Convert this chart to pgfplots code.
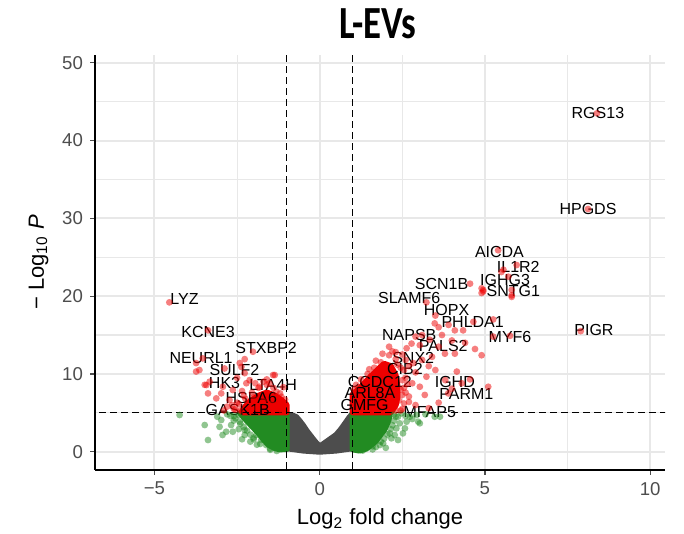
\documentclass[border=0pt]{standalone}
\usepackage{fontspec}
\setmainfont{Liberation Sans}
\newfontfamily\titlefont{Carlito}
\usepackage{pgfplots}
\pgfplotsset{compat=1.18}
\definecolor{ggray}{HTML}{4D4D4D}
\definecolor{fgreen}{HTML}{228B22}
\definecolor{rred}{HTML}{EE0000}
\definecolor{gridc}{HTML}{E8E8E8}
\definecolor{tickc}{HTML}{4D4D4D}

\begin{document}
\begin{tikzpicture}
\useasboundingbox (-47.5pt,-32pt) rectangle (294.5pt,235pt);
\begin{axis}[
 scale only axis, width=285pt, height=207.5pt,
 xmin=-6.8, xmax=10.45, ymin=-2.35, ymax=51,
 axis x line*=bottom, axis y line*=left,
 axis line style={black, line width=0.6pt},
 xtick={-5,0,5,10}, xticklabels={−5,0,5,10},
 ytick={0,10,20,30,40,50},
 minor xtick={-2.5,2.5,7.5}, minor ytick={5,15,25,35,45},
 grid=both,
 major grid style={gridc, line width=1pt},
 minor grid style={gridc, line width=0.55pt},
 tick align=outside, major tick length=2.5pt, minor tick length=0pt,
 tick style={tickc, line width=0.6pt},
 ticklabel style={font=\fontsize{9.3}{10}\selectfont, text=tickc},
 /pgf/number format/assume math mode=true,
 xlabel={Log\textsubscript{2} fold change},
 ylabel={− Log\textsubscript{10} \textit{P}},
 label style={font=\fontsize{11}{13}\selectfont},
 clip=true,
 redpt/.style={only marks, mark=*, mark size=1.7pt, color=rred, mark options={fill=rred, fill opacity=0.5, draw opacity=0}},
 greenpt/.style={only marks, mark=*, mark size=1.7pt, color=fgreen, mark options={fill=fgreen, fill opacity=0.5, draw opacity=0}},
]
% gray core (not significant)
\addplot[fill=ggray, draw=ggray, line width=3pt, line join=round] coordinates {
(-1.0,0.45) (-1.0,4.7) (-0.85,4.7) (-0.71,4.45) (-0.6,3.9) (-0.51,3.4) (-0.4,2.7) (-0.30,2.15) (-0.2,1.6) (-0.10,1.08) (0,0.65) (0.1,0.95) (0.2,1.25) (0.35,1.7) (0.5,2.15) (0.65,2.9) (0.81,3.86) (0.9,4.4) (1.0,4.9) (1.0,0.45) (0.5,0.15) (0,0.0) (-0.5,0.15)
} -- cycle;
% green cores
\addplot[fill=fgreen, draw=fgreen, line width=3pt, line join=round] coordinates {
(-2.4,4.95) (-2.25,4.2) (-2.05,3.3) (-1.85,2.4) (-1.7,1.6) (-1.55,0.9) (-1.35,0.45) (-1.2,0.3) (-1.0,0.35) (-1.0,4.95)
} -- cycle;
\addplot[fill=fgreen, draw=fgreen, line width=3pt, line join=round] coordinates {
(1.0,0.3) (1.2,0.15) (1.41,0.4) (1.68,1.3) (1.95,2.8) (2.08,4.0) (2.12,4.95) (1.0,4.95)
} -- cycle;
% green scattered
\addplot[greenpt] coordinates {
(-4.24,4.72) (-3.48,3.43) (-3.38,1.5) (-2.98,4.07) (-3.03,3.2) (-2.94,2.15) (-2.83,2.57) (-2.68,3.43) (-2.63,2.57) (-2.42,3.86) (-2.27,2.8) (-2.27,2.15) (-1.92,2.15) (-1.77,1.5) (-1.62,0.86) (-2.55,4.3) (-2.7,4.6) (-2.35,1.6) (-2.1,1.3) (-1.9,0.9) (-1.5,0.4) (-2.0,1.8) (-2.6,4.0) (-2.8,4.8) (-3.1,4.5) (-2.45,2.9)
(-2.6,4.6) (-2.4,3.6) (-2.2,2.7) (-2.0,1.6) (-1.8,1.0) (-1.5,0.25) (-1.3,0.1) (-2.45,4.7) (-2.3,3.2) (-2.1,2.2)
(2.37,4.5) (2.42,3.65) (2.58,3.0) (2.52,2.36) (2.37,1.5) (2.27,2.15) (2.17,1.72) (1.92,1.08) (1.82,0.86) (2.63,3.86) (2.73,4.5) (2.98,3.86) (3.03,3.65) (3.48,4.5) (3.64,4.5) (2.93,4.72) (2.47,4.93) (2.32,3.0) (2.12,2.36) (1.6,0.3) (2.0,0.5) (2.8,4.2) (3.2,4.8) (2.25,4.0) (2.6,4.6) (1.7,0.6)
(2.3,4.5) (2.2,3.4) (2.05,2.2) (1.85,1.3) (1.6,0.7) (1.3,0.15) (2.25,4.8) (2.15,2.9) (1.95,1.7)
};
% red cores
\addplot[fill=rred, draw=rred, line width=3pt, line join=round] coordinates {
(-1.0,5.05) (-1.0,6.0) (-1.15,6.6) (-1.35,7.2) (-1.6,7.6) (-1.85,7.2) (-2.1,6.5) (-2.25,5.8) (-2.35,5.2) (-2.35,5.05)
} -- cycle;
\addplot[fill=rred, draw=rred, line width=3pt, line join=round] coordinates {
(1.0,5.05) (2.15,5.05) (2.3,6.0) (2.35,7.0) (2.35,8.5) (2.3,9.8) (2.15,11.0) (1.95,11.3) (1.75,10.5) (1.55,9.7) (1.38,8.9) (1.2,8.1) (1.0,7.4)
} -- cycle;
% red scattered
\addplot[redpt] coordinates {
(-4.55,19.2) (-3.38,15.6) (-2.02,12.85) (-2.42,11.4) (-3.74,11.4) (-3.64,10.5) (-3.54,12.0) (-2.88,10.7) (-3.43,8.57) (-2.22,8.8) (-1.36,9.86) (-1.06,6.0) (-3.74,10.3) (-3.48,8.6) (-3.33,9.0) (-3.38,7.5) (-3.13,6.86) (-2.98,7.5) (-2.93,8.35) (-2.27,10.1) (-2.12,9.2) (-1.41,9.86) (-1.52,8.8) (-1.31,7.7) (-1.16,7.07) (-1.82,8.35) (-2.73,6.65) (-2.63,7.93) (-2.6,5.5) (-2.8,5.8) (-2.5,6.3) (-2.3,7.2) (-2.0,7.0) (-1.7,6.5) (-1.25,5.6) (-1.1,8.3) (-1.6,9.3) (-2.5,9.5) (-2.9,5.3) (-2.27,11.9) (-2.37,10.9)
(-2.55,5.4) (-2.45,6.1) (-2.25,6.8) (-2.05,7.6) (-1.85,8.2) (-1.6,8.6) (-1.4,8.2) (-1.2,7.5) (-1.05,6.7) (-1.7,9.0) (-1.95,8.8) (-2.35,7.8) (-2.65,6.0) (-2.4,5.3) (-1.15,5.3) (-1.9,5.6) (-1.45,6.2)
(8.39,43.5) (8.12,31.2) (7.9,15.5) (5.40,25.9) (5.56,23.4) (5.71,22.5) (5.96,24.0) (5.5,23.1) (5.81,20.8) (5.81,20.1) (4.95,20.6) (4.9,21.0) (5.25,17.0) (5.76,14.9) (5.25,14.8)
(4.55,21.6) (4.95,20.8) (4.9,20.4) (5.81,19.9) (3.23,19.2) (3.48,16.5) (4.65,16.7) (4.34,15.6) (4.09,15.6) (3.33,14.4) (2.63,13.3) (4.7,13.2) (4.9,12.4) (3.79,12.6) (4.09,12.6) (5.10,8.35) (4.55,9.3) (3.89,7.5) (3.18,7.3) (3.23,9.64) (3.03,8.35) (2.83,11.4) (3.03,13.7) (2.78,13.9)
(2.5,12.5) (2.7,11.0) (2.9,10.2) (3.1,11.8) (3.4,12.2) (3.6,13.5) (3.7,15.0) (3.9,16.3) (3.1,15.0) (2.9,14.8) (3.5,17.5) (2.6,9.5) (2.8,8.8) (2.6,7.6) (2.7,6.4) (2.9,6.0) (3.3,5.6) (3.6,6.3) (2.5,5.5) (2.55,10.5) (2.3,12.8) (2.1,13.5) (1.9,12.6) (3.5,10.5) (3.8,9.2) (4.0,8.1) (4.3,8.8) (4.15,10.3) (3.3,11.0) (4.4,14.0) (4.0,14.3) (3.6,16.0)
(2.45,5.3) (2.55,6.2) (2.5,7.3) (2.55,8.2) (2.5,9.2) (2.45,10.8) (2.3,11.9) (2.1,12.4) (1.85,11.5) (1.65,10.8) (1.45,10.0) (1.25,9.3) (1.1,8.6) (1.05,8.0) (2.35,11.2) (2.6,11.8) (2.2,12.9) (1.7,11.7) (1.5,10.6) (2.65,8.7) (2.7,7.1) (2.3,5.3) (2.4,6.6) (2.45,8.0)
};
% cutoff lines
\addplot[black, line width=0.5pt, dash pattern=on 3.5pt off 2pt] coordinates {(-1,-5) (-1,60)};
\addplot[black, line width=0.5pt, dash pattern=on 3.5pt off 2pt] coordinates {(1,-5) (1,60)};
\addplot[black, line width=0.5pt, dash pattern=on 3.5pt off 2pt] coordinates {(-10,5) (12,5)};
% gene labels
\begin{scope}[every node/.style={font=\fontsize{8}{9}\selectfont, inner sep=0pt}]
\node at (axis cs:8.42,43.5) {RGS13};
\node at (axis cs:8.12,31.2) {HPGDS};
\node at (axis cs:8.3,15.6) {PIGR};
\node at (axis cs:5.44,25.7) {AICDA};
\node at (axis cs:6.01,23.7) {IL1R2};
\node at (axis cs:5.61,22.1) {IGHG3};
\node at (axis cs:5.86,20.6) {SNTG1};
\node at (axis cs:3.69,21.6) {SCN1B};
\node at (axis cs:2.71,19.8) {SLAMF6};
\node at (axis cs:3.84,18.2) {HOPX};
\node at (axis cs:4.63,16.7) {PHLDA1};
\node at (axis cs:5.76,14.8) {MYF6};
\node at (axis cs:2.71,15.0) {NAPSB};
\node at (axis cs:3.74,13.6) {PALS2};
\node at (axis cs:2.83,12.1) {SNX2};
\node at (axis cs:2.58,10.6) {CIB2};
\node at (axis cs:1.82,8.9) {CCDC12};
\node at (axis cs:4.09,9.0) {IGHD};
\node at (axis cs:1.52,7.5) {ARL8A};
\node at (axis cs:4.44,7.4) {PARM1};
\node at (axis cs:1.36,6.0) {GMFG};
\node at (axis cs:3.33,5.15) {MFAP5};
\node at (axis cs:-4.09,19.6) {LYZ};
\node at (axis cs:-3.38,15.4) {KCNE3};
\node at (axis cs:-1.62,13.3) {STXBP2};
\node at (axis cs:-3.59,12.0) {NEURL1};
\node at (axis cs:-2.58,10.5) {SULF2};
\node at (axis cs:-2.88,8.8) {HK3};
\node at (axis cs:-1.41,8.57) {LTA4H};
\node at (axis cs:-2.07,6.86) {HSPA6};
\node at (axis cs:-2.48,5.36) {GASK1B};
\end{scope}
\end{axis}
\node[font=\titlefont\bfseries\fontsize{23}{26}\selectfont] at (141.5pt,223pt) {\scalebox{0.8}[1]{L-EVs}};
\end{tikzpicture}
\end{document}
